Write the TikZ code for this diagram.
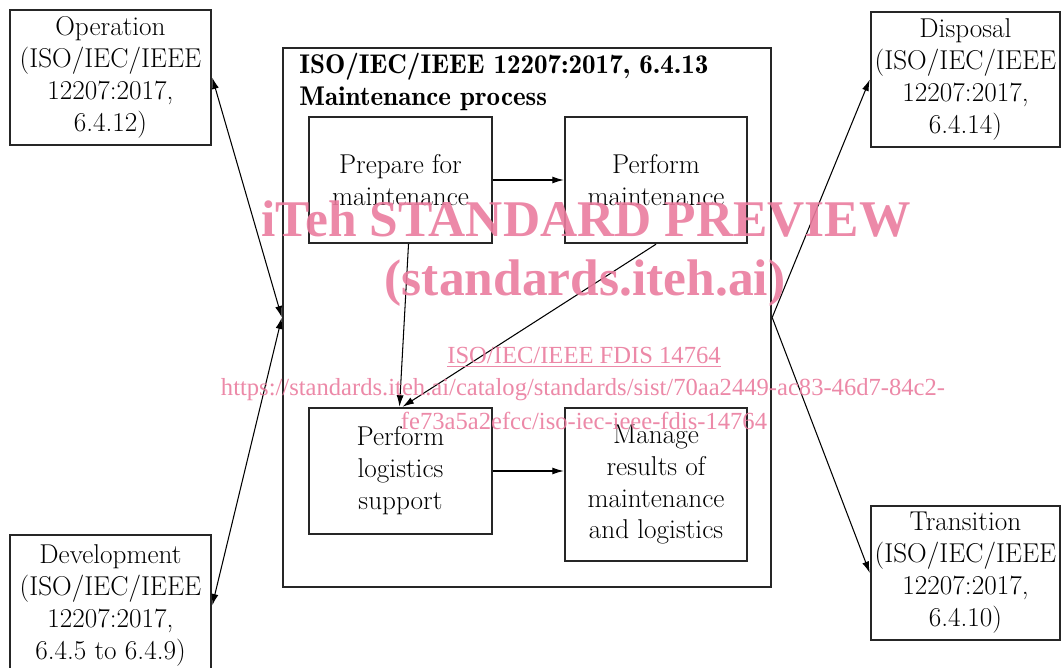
\documentclass[tikz,border=0pt]{standalone}
\usepackage{fontspec}
\newfontfamily\wmfont{Liberation Serif}
\newfontfamily\demifont{Latin Modern Roman Demi}
\usetikzlibrary{positioning,arrows.meta,calc}
\definecolor{wmpink}{RGB}{234,124,158}

\begin{document}
\begin{tikzpicture}[
    x=0.02cm, y=-0.02cm,
    box/.style={rectangle, draw=black!85, line width=1.4pt, align=center,
      inner sep=0pt, font=\fontsize{15.5}{18.2}\selectfont},
    title/.style={align=left, inner sep=0pt,
      font=\demifont\fontsize{15.4}{18.2}\selectfont},
    arrow/.style={-{Latex[length=2.3mm,width=1.4mm]}, line width=0.6pt},
    dblarrow/.style={{Latex[length=2.3mm,width=1.4mm]}-{Latex[length=2.3mm,width=1.4mm]}, line width=0.6pt},
    wmark/.style={text=wmpink, opacity=0.9, inner sep=0pt}
  ]
    \useasboundingbox (0,0) rectangle (1062,668);

    % outer processes
    \node[box, minimum width=4.02cm, minimum height=2.7cm]  (operation)   at (110.5,77.5)  {Operation\\(ISO/IEC/IEEE\\12207:2017,\\6.4.12)};
    \node[box, minimum width=4.02cm, minimum height=2.82cm] (development) at (110.5,605.5) {Development\\(ISO/IEC/IEEE\\12207:2017,\\6.4.5 to 6.4.9)};
    \node[box, minimum width=3.78cm, minimum height=2.7cm]  (disposal)    at (965.5,79.5)  {Disposal\\(ISO/IEC/IEEE\\12207:2017,\\6.4.14)};
    \node[box, minimum width=3.78cm, minimum height=2.68cm] (transition)  at (965.5,573)   {Transition\\(ISO/IEC/IEEE\\12207:2017,\\6.4.10)};

    % maintenance process
    \node[box, minimum width=9.76cm, minimum height=10.78cm] (main) at (527,317.5) {};
    \node[title, anchor=north west] (maintitle) at (299,53) {ISO/IEC/IEEE 12207:2017, 6.4.13\\Maintenance process};

    \node[box, minimum width=3.66cm, minimum height=2.52cm] (prepare)   at (400.5,180) {Prepare for\\maintenance};
    \node[box, minimum width=3.64cm, minimum height=2.52cm] (performm)  at (656,180)   {Perform\\maintenance};
    \node[box, minimum width=3.66cm, minimum height=2.52cm] (logistics) at (400.5,471) {Perform\\logistics\\support};
    \node[box, minimum width=3.64cm, minimum height=3.06cm] (manage)    at (656,484.5) {Manage\\results of\\maintenance\\and logistics};

    \draw[dblarrow] (operation.east)   -- (main.west);
    \draw[dblarrow] (development.east) -- (main.west);
    \draw[arrow]    (main.east) -- (disposal.west);
    \draw[arrow]    (main.east) -- (transition.west);

    \draw[arrow] (prepare.east) -- (performm.west);
    \draw[arrow] ($(prepare.south)+(8,0)$) -- ($(logistics.north)+(-1,0)$);
    \draw[arrow] (performm.south) -- ($(logistics.north)+(2,0)$);
    \draw[arrow] (logistics.east) -- (logistics.east -| manage.west);

    % watermark
    \node[wmark, font=\wmfont\fontsize{29.3}{32}\selectfont\bfseries] (wmtitle) at (586,219) {iTeh STANDARD PREVIEW};
    \node[wmark, font=\wmfont\fontsize{29.3}{32}\selectfont\bfseries] (wmsite)  at (585,283) {(standards.iteh.ai)};
    \node[wmark, font=\wmfont\fontsize{14}{16}\selectfont] (wmdoc)  at (584,357) {\underline{ISO/IEC/IEEE FDIS 14764}};
    \node[wmark, font=\wmfont\fontsize{14}{16}\selectfont] (wmurl)  at (583,390) {https://standards.iteh.ai/catalog/standards/sist/70aa2449-ac83-46d7-84c2-};
    \node[wmark, font=\wmfont\fontsize{14}{16}\selectfont] (wmurl2) at (584,421) {fe73a5a2efcc/iso-iec-ieee-fdis-14764};
  \end{tikzpicture}
\end{document}
